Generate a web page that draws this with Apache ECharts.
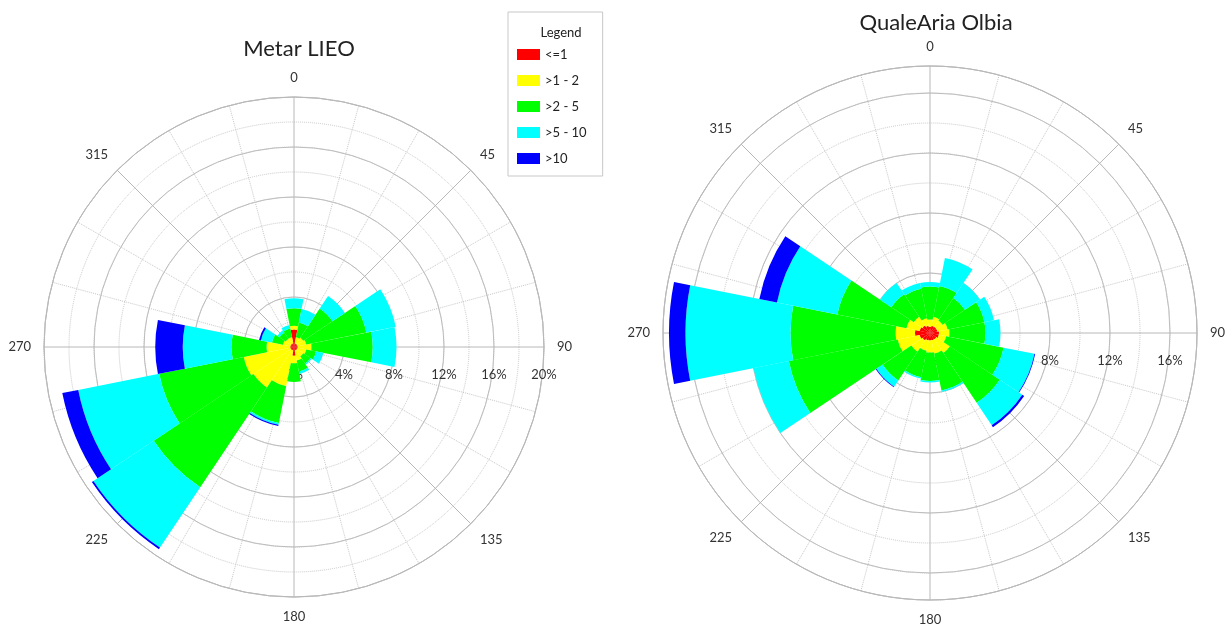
<!DOCTYPE html>
<html>
<head>
<meta charset="utf-8">
<script src="https://cdn.jsdelivr.net/npm/echarts@6/dist/echarts.min.js"></script>
<style>
  html, body { margin: 0; padding: 0; background: #fff; }
  #main { width: 1227px; height: 624px; }
</style>
</head>
<body>
<div id="main"></div>
<script>
  // 16 sectors, clockwise from north
  const directions = ['N', 'NNE', 'NE', 'ENE', 'E', 'ESE', 'SE', 'SSE', 'S', 'SSW', 'SW', 'WSW', 'W', 'WNW', 'NW', 'NNW']
  const speedClasses = ['<=1', '>1 - 2', '>2 - 5', '>5 - 10', '>10']

  // Metar LIEO, frequency % per class (stacked)
  const metarLe1 = [1.4, 0.3, 0.3, 0.3, 0.3, 0.3, 0.3, 0.3, 0.7, 0.3, 0.3, 0.3, 0.3, 0.3, 0.3, 0.3]
  const metar1to2 = [0.3, 0.5, 0.6, 0.7, 1.1, 0.7, 0.6, 0.8, 0.6, 2.9, 3.6, 3.8, 1.9, 0.6, 0.5, 0.5]
  const metar2to5 = [1.4, 1.2, 2.8, 4.9, 4.9, 0.8, 0.7, 0.9, 1.5, 3.0, 9.6, 6.9, 2.8, 0.9, 0.6, 0.7]
  const metar5to10 = [0.8, 1.1, 1.2, 2.4, 1.9, 0.6, 0.1, 0.2, 0, 0.15, 5.8, 6.6, 3.9, 0.9, 0.2, 0.3]
  const metarGt10 = [0, 0, 0, 0, 0, 0, 0, 0, 0, 0.1, 0.15, 1.3, 2.2, 0.15, 0, 0]

  // QualeAria Olbia, frequency % per class (stacked)
  const qaLe1 = [0.4, 0.5, 0.5, 0.5, 0.6, 0.6, 0.5, 0.5, 0.5, 0.5, 0.6, 0.7, 1.0, 0.7, 0.6, 0.5]
  const qa1to2 = [0.5, 0.6, 0.5, 0.7, 0.7, 0.5, 1.1, 0.9, 0.8, 0.7, 0.9, 1.5, 1.3, 0.9, 0.7, 0.5]
  const qa2to5 = [2.2, 2.1, 1.8, 2.5, 2.4, 3.9, 4.0, 2.5, 1.9, 1.8, 2.3, 7.4, 7.0, 4.7, 1.8, 2.0]
  const qa5to10 = [0.3, 1.9, 1.2, 0.65, 1.0, 2.1, 1.8, 0.1, 0.1, 0.1, 0.5, 2.4, 7.0, 4.1, 0.9, 0.4]
  const qaGt10 = [0, 0, 0, 0, 0, 0.05, 0.15, 0, 0, 0, 0.05, 0, 1.1, 1.2, 0, 0]

  const classColors = ['#FF0000', '#FFFF00', '#00FF00', '#00FFFF', '#0000FF']
  const metarData = [metarLe1, metar1to2, metar2to5, metar5to10, metarGt10]
  const qaData = [qaLe1, qa1to2, qa2to5, qa5to10, qaGt10]

  const font = 'Lato'
  const gridColor = '#b8b8b8'
  const dotColor = '#c8c8c8'

  // polar grid with 0/45/90.. labels and % rings
  function gridAngleAxis(polarIndex){
    return {
      polarIndex: polarIndex,
      type: 'value',
      min: 90,
      max: 450,
      interval: 45,
      startAngle: 0,
      clockwise: true,
      axisLine: { show: true, lineStyle: { color: gridColor } },
      axisTick: { show: false },
      axisLabel: {
        margin: 13,
        color: '#333',
        fontSize: 13,
        fontFamily: font,
        formatter: v => String(v % 360)
      },
      splitLine: { show: true, lineStyle: { color: gridColor, width: 1 } },
      minorTick: { show: false, splitNumber: 3 },
      minorSplitLine: { show: true, lineStyle: { color: dotColor, type: 'dotted' } }
    }
  }
  function gridRadiusAxis(polarIndex, max){
    return {
      polarIndex: polarIndex,
      type: 'value',
      min: 0,
      max: max,
      interval: 4,
      axisLine: { show: false },
      axisTick: { show: false },
      axisLabel: {
        margin: -28,
        verticalAlign: 'middle',
        align: 'center',
        color: '#333',
        fontSize: 13,
        fontFamily: font,
        formatter: v => (v % 4 === 0 ? v + '%' : '')
      },
      splitLine: { show: true, lineStyle: { color: gridColor } }
    }
  }
  // hidden polar that carries the bars, 16 sectors centred on the directions
  function dataAngleAxis(polarIndex){
    return {
      polarIndex: polarIndex,
      type: 'category',
      data: directions,
      startAngle: 90 + 11.25,
      clockwise: true,
      axisLine: { show: false },
      axisTick: { show: false },
      axisLabel: { show: false },
      splitLine: { show: false }
    }
  }
  function dataRadiusAxis(polarIndex, max){
    return {
      polarIndex: polarIndex,
      type: 'value',
      min: 0,
      max: max,
      interval: 2,
      axisLine: { show: false },
      axisTick: { show: false },
      axisLabel: { show: false },
      splitLine: { show: true, lineStyle: { color: dotColor, type: 'dotted' } }
    }
  }

  function roseSeries(allData, polarIndex, stack){
    return allData.map((arr, i) => ({
      type: 'bar',
      name: speedClasses[i],
      coordinateSystem: 'polar',
      polarIndex: polarIndex,
      stack: stack,
      barCategoryGap: '0%',
      data: arr,
      itemStyle: { color: classColors[i] },
      z: 3
    }))
  }

  const chart = echarts.init(document.getElementById('main'))
  const option = {
    animation: false,
    backgroundColor: '#fff',
    title: [
      {
        text: 'Metar LIEO', left: 294, top: 33, textAlign: 'center',
        textStyle: { fontFamily: font, fontSize: 22, fontWeight: 'normal', color: '#222' }
      },
      {
        text: 'QualeAria Olbia', left: 931, top: 7, textAlign: 'center',
        textStyle: { fontFamily: font, fontSize: 22, fontWeight: 'normal', color: '#222' }
      },
      {
        text: 'Legend', left: 556, top: 21, textAlign: 'center',
        textStyle: { fontFamily: font, fontSize: 13, fontWeight: 'normal', color: '#222' }
      }
    ],
    legend: {
      orient: 'vertical',
      left: 508,
      top: 12,
      padding: [36, 16, 11, 9],
      itemWidth: 23,
      itemHeight: 11,
      itemGap: 13,
      icon: 'rect',
      borderColor: '#c8c8c8',
      borderWidth: 1,
      data: speedClasses,
      textStyle: { fontFamily: font, fontSize: 13, color: '#222' }
    },
    polar: [
      { center: [294, 347], radius: 250 },
      { center: [294, 347], radius: 250 },
      { center: [930, 333], radius: 267 },
      { center: [930, 333], radius: 267 }
    ],
    angleAxis: [gridAngleAxis(0), dataAngleAxis(1), gridAngleAxis(2), dataAngleAxis(3)],
    radiusAxis: [gridRadiusAxis(0, 20), dataRadiusAxis(1, 20), gridRadiusAxis(2, 17.8), dataRadiusAxis(3, 17.8)],
    series: roseSeries(metarData, 1, 'metar').concat(roseSeries(qaData, 3, 'qa'))
  }
  chart.setOption(option)
</script>
</body>
</html>
